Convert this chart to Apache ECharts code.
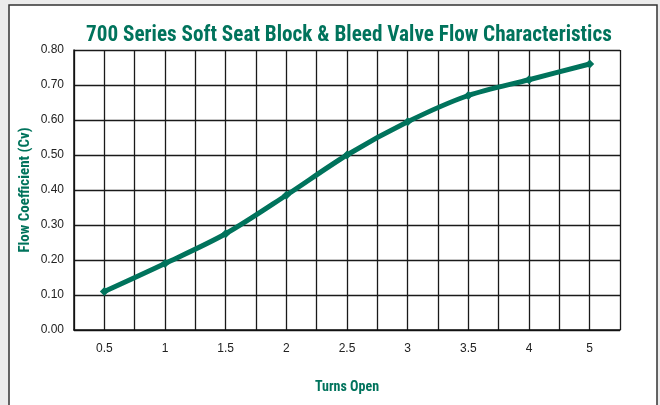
<!DOCTYPE html>
<html>
<head>
<meta charset="utf-8">
<script src="https://cdn.jsdelivr.net/npm/echarts@6/dist/echarts.min.js"></script>
<style>
  html, body { margin: 0; padding: 0; background: #ececec; }
  #chart { width: 660px; height: 405px; }
</style>
</head>
<body>
<div id="chart"></div>
<script>
// turns open (category labels) and flow coefficient values
var turns = ['0.5', '1', '1.5', '2', '2.5', '3', '3.5', '4', '5'];
var cv = [0.11, 0.19, 0.275, 0.385, 0.50, 0.595, 0.67, 0.715, 0.76];
var yTicks = { min: 0, max: 0.8, step: 0.1 };
// half-step slots used only to draw the finer vertical grid
var halfSlots = [];
for (var i = 0; i < turns.length * 2; i++) halfSlots.push('');

var green = '#00735c';
var condensed = '"Liberation Sans Narrow", "Roboto Condensed", "Liberation Sans", sans-serif';

var chart = echarts.init(document.getElementById('chart'));
chart.setOption({
    animation: false,
    graphic: [{
        type: 'rect',
        z: -10,
        silent: true,
        shape: { x: 9, y: 5, width: 648, height: 420 },
        style: { fill: '#ffffff', stroke: '#333333', lineWidth: 1.5 }
    }],
    title: {
        text: '700 Series Soft Seat Block & Bleed Valve Flow Characteristics',
        left: 81,
        top: 20,
        textStyle: {
            fontFamily: condensed,
            fontWeight: 'bold',
            fontSize: 21.2,
            color: green
        }
    },
    grid: { left: 74, right: 40, top: 50, bottom: 75 },
    xAxis: [{
        type: 'category',
        data: turns,
        boundaryGap: true,
        name: 'Turns Open',
        nameLocation: 'middle',
        nameGap: 50,
        nameTextStyle: { fontFamily: condensed, fontWeight: 'bold', fontSize: 14, color: green },
        axisLine: { lineStyle: { color: '#111', width: 1.5 } },
        axisTick: { show: false },
        axisLabel: { fontFamily: '"Liberation Sans", Arial, sans-serif', fontSize: 12, color: '#222', margin: 13 },
        splitLine: { show: false }
    }, {
        type: 'category',
        data: halfSlots,
        position: 'bottom',
        boundaryGap: true,
        axisLine: { show: false },
        axisTick: { show: false },
        axisLabel: { show: false },
        splitLine: { show: true, lineStyle: { color: '#1a1a1a', width: 1.3 } }
    }],
    yAxis: {
        type: 'value',
        min: yTicks.min,
        max: yTicks.max,
        interval: yTicks.step,
        name: 'Flow Coefficient (Cv)',
        nameLocation: 'middle',
        nameGap: 41,
        nameMoveOverlap: false,
        nameTextStyle: { fontFamily: condensed, fontWeight: 'bold', fontSize: 15, color: green },
        axisLine: { show: true, lineStyle: { color: '#111', width: 1.5 } },
        axisTick: { show: false },
        axisLabel: {
            fontFamily: '"Liberation Sans", Arial, sans-serif',
            fontSize: 12,
            color: '#222',
            margin: 10,
            formatter: function (v) { return v.toFixed(2); }
        },
        splitLine: { show: true, lineStyle: { color: '#1a1a1a', width: 1.3 } }
    },
    series: [{
        type: 'line',
        xAxisIndex: 0,
        data: cv,
        smooth: 0.3,
        symbol: 'diamond',
        symbolSize: 9,
        itemStyle: { color: green },
        lineStyle: { color: green, width: 5 }
    }]
});
</script>
</body>
</html>
